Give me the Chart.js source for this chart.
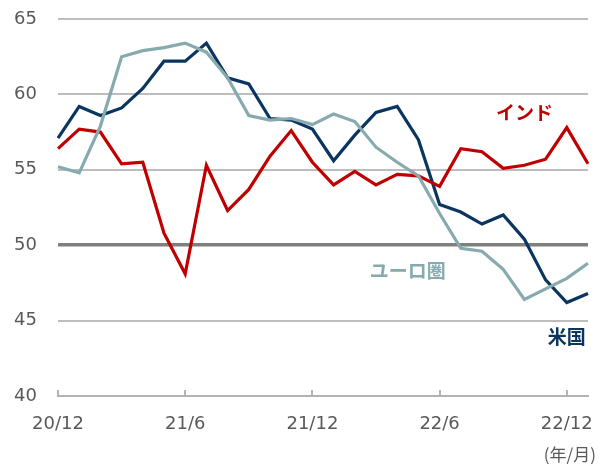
<!DOCTYPE html>
<html lang="ja">
<head>
    <meta charset="UTF-8">
    <title>PMI</title>
    <script src="https://cdn.jsdelivr.net/npm/chart.js"></script>
    <style>
        html, body {
            margin: 0;
            padding: 0;
            background: #fff;
        }
        .chart-box {
            position: relative;
            width: 608px;
            height: 466px;
        }
    </style>
</head>
<body>
    <div class="chart-box">
        <canvas id="pmiChart"></canvas>
    </div>

    <script>
        // monthly, 20/12 .. 23/1
        const months = ['20/12', '21/1', '21/2', '21/3', '21/4', '21/5', '21/6', '21/7', '21/8', '21/9', '21/10', '21/11',
                        '21/12', '22/1', '22/2', '22/3', '22/4', '22/5', '22/6', '22/7', '22/8', '22/9', '22/10', '22/11',
                        '22/12', '23/1'];
        const usValues = [57.1, 59.2, 58.6, 59.1, 60.4, 62.2, 62.2, 63.4, 61.1, 60.7, 58.4, 58.3,
                          57.7, 55.6, 57.3, 58.8, 59.2, 57.0, 52.7, 52.2, 51.4, 52.0, 50.4, 47.7,
                          46.2, 46.8];
        const indiaValues = [56.4, 57.7, 57.5, 55.4, 55.5, 50.8, 48.1, 55.3, 52.3, 53.7, 55.9, 57.6,
                             55.5, 54.0, 54.9, 54.0, 54.7, 54.6, 53.9, 56.4, 56.2, 55.1, 55.3, 55.7,
                             57.8, 55.4];
        const euroValues = [55.2, 54.8, 57.9, 62.5, 62.9, 63.1, 63.4, 62.8, 61.1, 58.6, 58.3, 58.4,
                            58.0, 58.7, 58.2, 56.5, 55.5, 54.6, 52.1, 49.8, 49.6, 48.4, 46.4, 47.1,
                            47.8, 48.8];
        const yTicks = [40, 45, 50, 55, 60, 65];

        const seriesLabels = [
            { text: 'インド', color: '#c00000', at: [22.0, 58.8] },
            { text: 'ユーロ圏', color: '#86aaad', at: [16.5, 48.3] },
            { text: '米国', color: '#0a3560', at: [24.0, 43.9] }
        ];

        const numFont = "'DejaVu Sans', sans-serif";
        const jpFont = "'Noto Sans CJK JP', sans-serif";

        const extras = {
            id: 'extras',
            afterDatasetsDraw(chart) {
                const ctx = chart.ctx;
                const x = chart.scales.x;
                const y = chart.scales.y;
                ctx.save();
                // inner tick marks on the x axis, every 6 months
                ctx.strokeStyle = '#b3b3b3';
                ctx.lineWidth = 2;
                for (let i = 0; i < months.length; i += 6) {
                    const px = Math.round(x.getPixelForValue(i));
                    ctx.beginPath();
                    ctx.moveTo(px, y.bottom);
                    ctx.lineTo(px, y.bottom - 6);
                    ctx.stroke();
                }
                // series names
                ctx.font = "bold 19px " + jpFont;
                ctx.textAlign = 'center';
                ctx.textBaseline = 'middle';
                seriesLabels.forEach(l => {
                    ctx.fillStyle = l.color;
                    ctx.fillText(l.text, x.getPixelForValue(l.at[0]), y.getPixelForValue(l.at[1]));
                });
                // unit note
                ctx.font = "17px " + jpFont;
                ctx.fillStyle = '#595959';
                ctx.textAlign = 'right';
                ctx.fillText('(年/月)', chart.width - 12, 455);
                ctx.restore();
            }
        };

        const line = (data, color) => ({
            data: data,
            borderColor: color,
            borderWidth: 3.2,
            pointRadius: 0,
            tension: 0,
            fill: false
        });

        new Chart(document.getElementById('pmiChart'), {
            type: 'line',
            data: {
                labels: months,
                datasets: [
                    line(euroValues, '#86aaad'),
                    line(indiaValues, '#c00000'),
                    line(usValues, '#0a3560')
                ]
            },
            options: {
                responsive: true,
                maintainAspectRatio: false,
                animation: false,
                layout: { padding: { top: 19, right: 20, left: 0, bottom: 0 } },
                plugins: {
                    legend: { display: false },
                    tooltip: { enabled: false }
                },
                scales: {
                    x: {
                        offset: false,
                        border: { display: true, color: '#b3b3b3', width: 2 },
                        grid: { display: false, drawTicks: false },
                        ticks: {
                            autoSkip: false,
                            maxRotation: 0,
                            padding: 18,
                            color: '#595959',
                            font: { family: numFont, size: 18 },
                            callback: (v, i) => (i % 6 === 0 ? months[i] : '')
                        },
                        afterFit: s => { s.height = 70; }
                    },
                    y: {
                        min: 40,
                        max: 65,
                        afterBuildTicks: s => { s.ticks = yTicks.map(v => ({ value: v })); },
                        border: { display: false },
                        grid: {
                            drawTicks: false,
                            color: c => (c.tick.value === 50 ? '#7f7f7f' : (c.tick.value === 40 ? 'rgba(0,0,0,0)' : '#bdbdbd')),
                            lineWidth: c => (c.tick.value === 50 ? 3.5 : 2)
                        },
                        ticks: {
                            padding: 21,
                            color: '#595959',
                            font: { family: numFont, size: 18 }
                        },
                        afterFit: s => {
                            s.width = 58;
                            s.paddingTop = 0;
                            s.paddingBottom = 0;
                        }
                    }
                }
            },
            plugins: [extras]
        });
    </script>
</body>
</html>
